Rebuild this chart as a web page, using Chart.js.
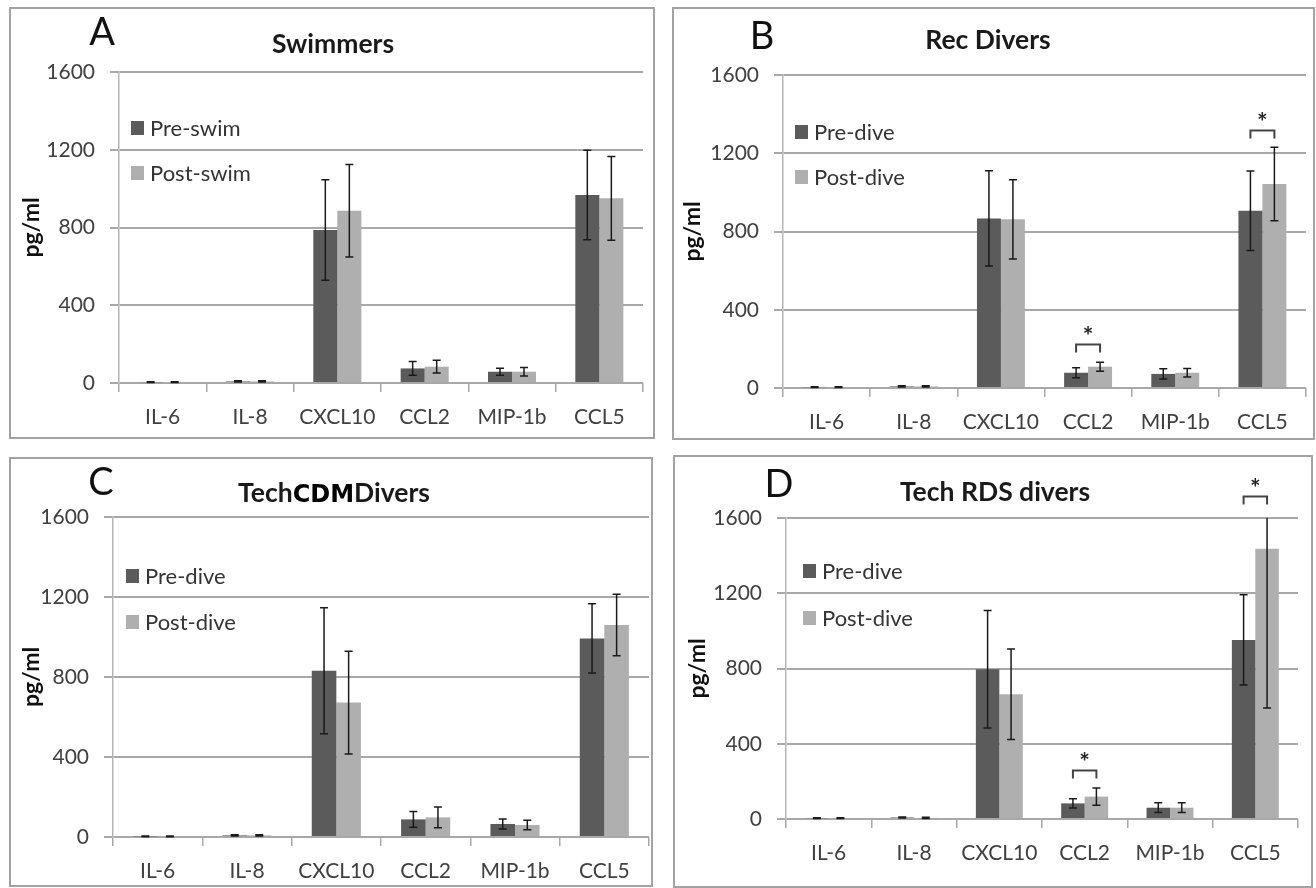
<!DOCTYPE html>
<html>
<head>
<meta charset="utf-8">
<script src="https://cdn.jsdelivr.net/npm/chart.js@4.4.0/dist/chart.umd.min.js"></script>
<style>
  body { margin: 0; background: #fff; }
  #fig { position: relative; width: 1316px; height: 888px; overflow: hidden; background: #fff; }
  .panel { position: absolute; box-sizing: border-box; border: 2px solid #a3a3a3; }
  canvas { position: absolute; }
</style>
</head>
<body>
<div id="fig"></div>
<script>
// Categories and axis
const cytokines = ["IL-6", "IL-8", "CXCL10", "CCL2", "MIP-1b", "CCL5"];
const yMax = 1600;
const yStep = 400;

// A - Swimmers
const swimPre = [4, 8, 787, 75, 58, 967];
const swimPreErr = [2, 3, 259, 35, 18, 230];
const swimPost = [4, 8, 886, 84, 58, 950];
const swimPostErr = [2, 3, 238, 33, 22, 215];
const swimSig = [null, null, null, null, null, null];

// B - Rec Divers
const recPre = [4, 8, 867, 78, 72, 906];
const recPreErr = [2, 3, 243, 26, 26, 203];
const recPost = [4, 8, 862, 109, 78, 1043];
const recPostErr = [2, 3, 203, 23, 22, 188];
const recSig = [null, null, null, 225, null, 1320];

// C - Tech CDM Divers
const cdmPre = [3, 8, 831, 88, 65, 993];
const cdmPreErr = [2, 3, 315, 39, 25, 173];
const cdmPost = [3, 8, 672, 98, 60, 1060];
const cdmPostErr = [2, 3, 257, 52, 24, 154];
const cdmSig = [null, null, null, null, null, null];

// D - Tech RDS divers
const rdsPre = [4, 8, 796, 83, 60, 952];
const rdsPreErr = [2, 3, 312, 25, 26, 240];
const rdsPost = [4, 6, 663, 119, 60, 1436];
const rdsPostErr = [2, 3, 240, 46, 26, 846];
const rdsSig = [null, null, null, 261, null, 1715];

const preColor = "#5b5b5b";
const postColor = "#afafaf";
const gridColor = "#a8a8a8";
const font = "Lato, 'Open Sans', sans-serif";

// panel layout: box = [x, y, w, h], area = [left, top, right, bottom] (page coords)
const panels = [
    { letter: "A", title: ["Swimmers"], names: ["Pre-swim", "Post-swim"],
      pre: swimPre, preErr: swimPreErr, post: swimPost, postErr: swimPostErr, sig: swimSig,
      box: [9, 7, 646, 432], area: [119, 72, 643, 383],
      letterAt: [102, 33], titleAt: [333, 44], legendAt: [131, 128, 45], yTitleX: 32 },
    { letter: "B", title: ["Rec Divers"], names: ["Pre-dive", "Post-dive"],
      pre: recPre, preErr: recPreErr, post: recPost, postErr: recPostErr, sig: recSig,
      box: [672, 7, 643, 433], area: [783, 75, 1306, 388],
      letterAt: [762, 37], titleAt: [988, 40], legendAt: [795, 132, 45], yTitleX: 693 },
    { letter: "C", title: ["Tech", "CDM", "Divers"], names: ["Pre-dive", "Post-dive"],
      pre: cdmPre, preErr: cdmPreErr, post: cdmPost, postErr: cdmPostErr, sig: cdmSig,
      box: [9, 457, 644, 430], area: [113, 517, 649, 837],
      letterAt: [101, 483], titleAt: [334, 493], legendAt: [126, 576, 46], yTitleX: 32 },
    { letter: "D", title: ["Tech RDS divers"], names: ["Pre-dive", "Post-dive"],
      pre: rdsPre, preErr: rdsPreErr, post: rdsPost, postErr: rdsPostErr, sig: rdsSig,
      box: [673, 455, 640, 433], area: [786, 518, 1298, 819],
      letterAt: [779, 485], titleAt: [995, 492], legendAt: [803, 571, 47], yTitleX: 698 },
];

// error bars, significance brackets, letter, title, legend
const overlayPlugin = {
    id: "overlay",
    afterDatasetsDraw(chart) {
        const ctx = chart.ctx;
        const y = chart.scales.y;
        ctx.save();
        ctx.strokeStyle = "#1a1a1a";
        ctx.lineWidth = 1.5;
        chart.data.datasets.forEach((ds, di) => {
            chart.getDatasetMeta(di).data.forEach((bar, i) => {
                const v = ds.data[i], e = ds.err[i];
                const hi = Math.min(v + e, y.max), lo = Math.max(v - e, y.min);
                const yh = y.getPixelForValue(hi), yl = y.getPixelForValue(lo);
                ctx.beginPath();
                ctx.moveTo(bar.x, yh); ctx.lineTo(bar.x, yl);
                if (v + e <= y.max) { ctx.moveTo(bar.x - 4, yh); ctx.lineTo(bar.x + 4, yh); }
                ctx.moveTo(bar.x - 4, yl); ctx.lineTo(bar.x + 4, yl);
                ctx.stroke();
            });
        });
        ctx.restore();
    },
    afterDraw(chart, args, opts) {
        const p = opts.panel;
        const ox = p.box[0], oy = p.box[1];
        const ctx = chart.ctx;
        const y = chart.scales.y;
        ctx.save();

        // significance brackets
        const m0 = chart.getDatasetMeta(0).data, m1 = chart.getDatasetMeta(1).data;
        ctx.strokeStyle = "#444";
        ctx.lineWidth = 2;
        p.sig.forEach((s, i) => {
            if (s === null) return;
            const by = Math.round(y.getPixelForValue(s)) + 0.5;
            const x0 = m0[i].x, x1 = m1[i].x;
            ctx.beginPath();
            ctx.moveTo(x0, by + 8); ctx.lineTo(x0, by); ctx.lineTo(x1, by); ctx.lineTo(x1, by + 8);
            ctx.stroke();
            ctx.fillStyle = "#222";
            ctx.font = "bold 25px " + font;
            ctx.textAlign = "center";
            ctx.textBaseline = "middle";
            ctx.fillText("*", (x0 + x1) / 2, by - 8);
        });

        // panel letter
        ctx.fillStyle = "#111";
        ctx.font = "38px " + font;
        ctx.textAlign = "center";
        ctx.textBaseline = "middle";
        ctx.fillText(p.letter, p.letterAt[0] - ox, p.letterAt[1] - oy);

        // title (C has a pasted-in "CDM" in another font)
        const tFont = "bold 26.5px " + font;
        const cdmFont = "bold 24px 'DejaVu Sans', sans-serif";
        const parts = p.title.map((t, k) => ({ t, f: (p.title.length === 3 && k === 1) ? cdmFont : tFont }));
        let total = 0;
        parts.forEach(pt => { ctx.font = pt.f; pt.w = ctx.measureText(pt.t).width; total += pt.w; });
        let tx = p.titleAt[0] - ox - total / 2;
        ctx.textAlign = "left";
        ctx.textBaseline = "alphabetic";
        parts.forEach(pt => {
            ctx.font = pt.f;
            ctx.fillStyle = pt.f === cdmFont ? "#000" : "#1a1a1a";
            ctx.fillText(pt.t, tx, p.titleAt[1] - oy + 9);
            tx += pt.w;
        });

        // legend
        ctx.font = "22px " + font;
        ctx.textBaseline = "middle";
        chart.data.datasets.forEach((ds, di) => {
            const ly = p.legendAt[1] - oy + di * p.legendAt[2];
            const lx = p.legendAt[0] - ox;
            ctx.fillStyle = ds.backgroundColor;
            ctx.fillRect(lx, ly - 7, 13, 14);
            ctx.fillStyle = "#333";
            ctx.fillText(ds.label, lx + 19, ly + 1);
        });
        ctx.restore();
    },
};

const fig = document.getElementById("fig");

panels.forEach((p) => {
    const [bx, by, bw, bh] = p.box;
    const [al, at, ar, ab] = p.area;

    const frame = document.createElement("div");
    frame.className = "panel";
    Object.assign(frame.style, { left: bx + "px", top: by + "px", width: bw + "px", height: bh + "px" });
    fig.appendChild(frame);

    const canvas = document.createElement("canvas");
    canvas.width = bw;
    canvas.height = bh;
    Object.assign(canvas.style, { left: bx + "px", top: by + "px", width: bw + "px", height: bh + "px" });
    fig.appendChild(canvas);

    const titleFontSize = 23;
    new Chart(canvas.getContext("2d"), {
        type: "bar",
        data: {
            labels: cytokines,
            datasets: [
                { label: p.names[0], data: p.pre, err: p.preErr, backgroundColor: preColor,
                  categoryPercentage: 0.55, barPercentage: 1.0 },
                { label: p.names[1], data: p.post, err: p.postErr, backgroundColor: postColor,
                  categoryPercentage: 0.55, barPercentage: 1.0 },
            ],
        },
        options: {
            responsive: false,
            animation: false,
            layout: { padding: { left: 0, top: at - by, right: bx + bw - ar, bottom: 0 } },
            plugins: {
                legend: { display: false },
                tooltip: { enabled: false },
                overlay: { panel: p },
            },
            scales: {
                x: {
                    grid: { drawOnChartArea: false, drawTicks: true, tickLength: 9, color: gridColor, lineWidth: 1.5 },
                    border: { display: false },
                    ticks: { font: { family: font, size: 21 }, color: "#404040", padding: 13 },
                    afterFit: (s) => { s.height = by + bh - ab; },
                },
                y: {
                    min: 0,
                    max: yMax,
                    ticks: {
                        stepSize: yStep,
                        font: { family: font, size: 21 },
                        color: "#404040",
                        padding: 15,
                        callback: (v) => String(v),
                    },
                    grid: { color: gridColor, lineWidth: 2, tickLength: 9 },
                    border: { display: true, color: "#b5b5b5", width: 1.5 },
                    title: {
                        display: true,
                        text: "pg/ml",
                        color: "#111",
                        font: { family: font, size: titleFontSize, weight: "bold" },
                        padding: { top: p.yTitleX - bx - titleFontSize * 0.6, bottom: 0 },
                    },
                    afterFit: (s) => { s.width = al - bx; },
                },
            },
        },
        plugins: [overlayPlugin],
    });
});
</script>
</body>
</html>
